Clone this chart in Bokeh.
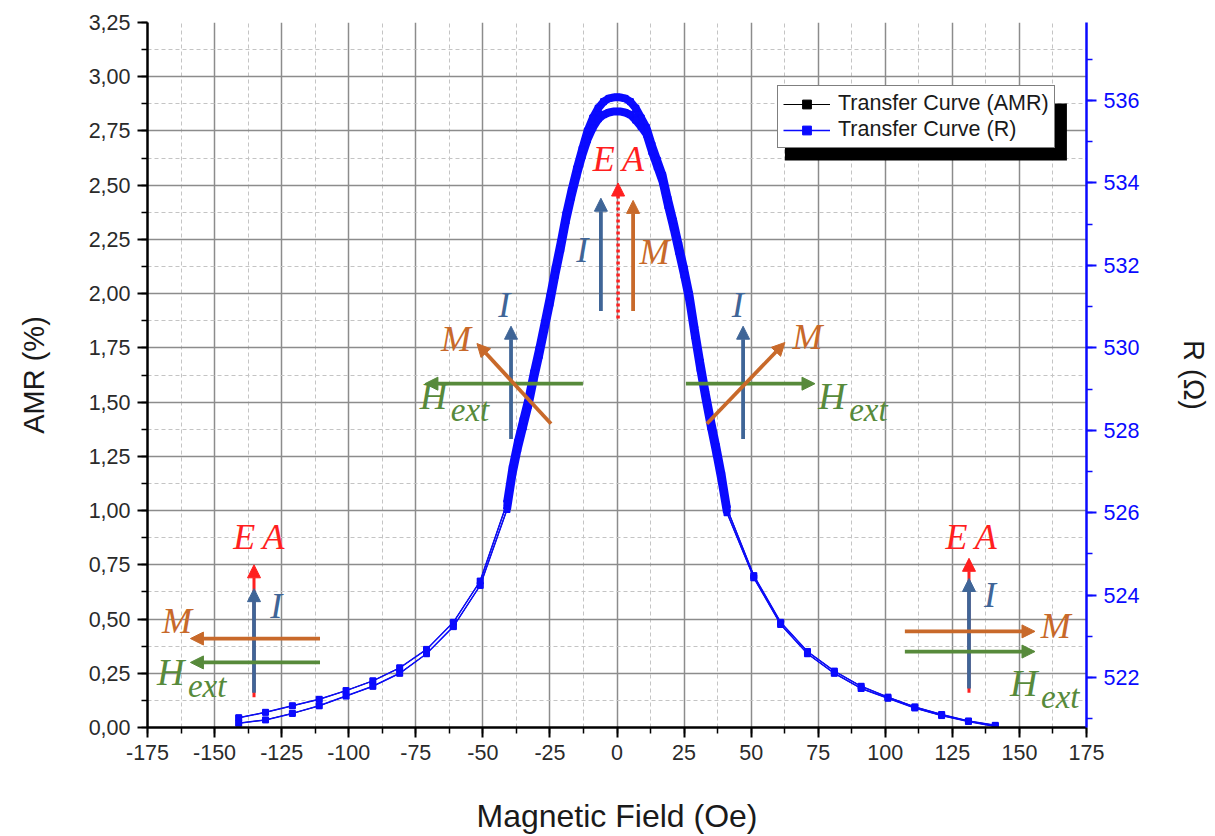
from bokeh.plotting import figure
from bokeh.models import (Range1d, LinearAxis, SingleIntervalTicker, CustomJSTickFormatter,
                          Arrow, NormalHead, Label, Legend, LegendItem, BoxAnnotation)
from bokeh.embed import file_html
from bokeh.resources import INLINE

# ---------------- data ----------------
field_left = [-141, -131, -121, -111, -101, -91, -81, -71, -61, -51]
amr_up_left = [0.045, 0.07, 0.10, 0.13, 0.17, 0.215, 0.275, 0.36, 0.485, 0.675]
amr_dn_left = [0.02, 0.035, 0.065, 0.10, 0.145, 0.19, 0.25, 0.34, 0.465, 0.655]

field_core = [-41, -39, -37, -35, -33, -31, -29, -27, -25, -23, -21, -19, -17, -15, -13, -11,
              -9, -7, -5, -3, -1, 1, 3, 5, 7, 9, 11, 13, 15, 17, 19, 21, 23, 25, 27, 29, 31,
              33, 35, 37, 39, 41]
amr_up_core = [1.035, 1.195, 1.315, 1.415, 1.515, 1.635, 1.745, 1.865, 1.985, 2.115, 2.235,
               2.365, 2.475, 2.575, 2.665, 2.75, 2.81, 2.855, 2.885, 2.90, 2.905,
               2.905, 2.90, 2.885, 2.855, 2.81, 2.765, 2.685, 2.615, 2.545, 2.435, 2.335,
               2.225, 2.115, 1.995, 1.835, 1.685, 1.545, 1.415, 1.295, 1.165, 1.01]
amr_dn_core = [1.005, 1.165, 1.285, 1.385, 1.485, 1.605, 1.715, 1.835, 1.955, 2.085, 2.205,
               2.335, 2.445, 2.545, 2.635, 2.71, 2.765, 2.805, 2.825, 2.835, 2.84,
               2.84, 2.835, 2.825, 2.80, 2.77, 2.735, 2.655, 2.585, 2.515, 2.405, 2.305,
               2.195, 2.085, 1.965, 1.805, 1.655, 1.515, 1.385, 1.265, 1.135, 0.99]

field_right = [51, 61, 71, 81, 91, 101, 111, 121, 131, 141]
amr_up_right = [0.70, 0.485, 0.35, 0.26, 0.19, 0.14, 0.095, 0.06, 0.03, 0.01]
amr_dn_right = [0.69, 0.475, 0.34, 0.25, 0.18, 0.135, 0.09, 0.055, 0.028, 0.005]

x_ticks_step = 25
amr_range = (0.0, 3.25)
r_range = (520.79, 537.89)

# full branches
field_up = field_left + field_core + field_right
amr_up = amr_up_left + amr_up_core + amr_up_right
field_dn = field_left + field_core + field_right
amr_dn = amr_dn_left + amr_dn_core + amr_dn_right

def to_r(vals):
    k = (r_range[1] - r_range[0]) / (amr_range[1] - amr_range[0])
    return [r_range[0] + v * k for v in vals]

r_up = to_r(amr_up)
r_dn = to_r(amr_dn)
r_up_core = to_r(amr_up_core)
r_dn_core = to_r(amr_dn_core)

FONT = "Liberation Sans"
SERIF = "Liberation Serif"
BLUE = "#0a0aff"

p = figure(width=1215, height=836, x_range=Range1d(-175, 175), y_range=Range1d(*amr_range),
           output_backend="svg", toolbar_location=None,
           min_border_left=147, min_border_right=129, min_border_top=22, min_border_bottom=109)
p.outline_line_color = None
p.extra_y_ranges = {"r": Range1d(*r_range)}

# grids
for g in (p.xgrid, p.ygrid):
    g.grid_line_color = "#8c8c8c"
    g.grid_line_width = 1.5
    g.minor_grid_line_color = "#c4c4c4"
    g.minor_grid_line_dash = "4 3"
    g.minor_grid_line_width = 1

# axes
xax = p.xaxis[0]
xax.ticker = SingleIntervalTicker(interval=x_ticks_step, num_minor_ticks=2)
xax.formatter = CustomJSTickFormatter(code="return tick.toFixed(0);")
yax = p.yaxis[0]
yax.ticker = SingleIntervalTicker(interval=0.25, num_minor_ticks=2)
yax.formatter = CustomJSTickFormatter(code="return tick.toFixed(2).replace('.', ',');")
xax.axis_label = "Magnetic Field (Oe)"
yax.axis_label = "AMR (%)"

rax = LinearAxis(y_range_name="r", axis_label="R (\u03a9)",
                 ticker=SingleIntervalTicker(interval=2, num_minor_ticks=2))
p.add_layout(rax, "right")

for ax in (xax, yax, rax):
    ax.axis_line_width = 2.5
    ax.major_tick_line_width = 2
    ax.minor_tick_line_width = 1.5
    ax.major_tick_out = 10
    ax.major_tick_in = 0
    ax.minor_tick_out = 6
    ax.minor_tick_in = 0
    ax.major_label_text_font = FONT
    ax.major_label_text_font_size = "21.5px"
    ax.axis_label_text_font = FONT
    ax.axis_label_text_font_size = "29px"
    ax.axis_label_text_font_style = "normal"
    ax.axis_label_text_color = "#1a1a1a"
    ax.major_label_text_color = "#2a2a2a"
    ax.major_label_standoff = 7
xax.axis_label_text_font_size = "32px"
xax.axis_label_standoff = 35
yax.axis_label_standoff = 36
rax.axis_label_standoff = 36
for attr in ("axis_line_color", "major_tick_line_color", "minor_tick_line_color",
             "major_label_text_color"):
    setattr(rax, attr, BLUE)

# AMR series (black)
bl = p.line(field_up, amr_up, color="black", line_width=1)
p.line(field_dn, amr_dn, color="black", line_width=1)
bm = p.scatter(field_up, amr_up, marker="square", size=5, color="black")
p.scatter(field_dn, amr_dn, marker="square", size=5, color="black")

# R series (blue) on right axis
rl = p.line(field_up, r_up, color=BLUE, line_width=1.5, y_range_name="r")
p.line(field_dn, r_dn, color=BLUE, line_width=1.5, y_range_name="r")
p.line(field_core, r_up_core, color=BLUE, line_width=8, y_range_name="r")
p.line(field_core, r_dn_core, color=BLUE, line_width=8, y_range_name="r")
rm = p.scatter(field_up, r_up, marker="square", size=6, color=BLUE, y_range_name="r")
p.scatter(field_dn, r_dn, marker="square", size=6, color=BLUE, y_range_name="r")

# ---------------- annotations ----------------
C_I = "#3f6597"
C_M = "#c8692a"
C_H = "#578a3b"
C_EA = "#ff1f1f"

def arrow(x0, y0, x1, y1, c, w=3.8, dash="solid", hs=13):
    p.add_layout(Arrow(x_start=x0, y_start=y0, x_end=x1, y_end=y1, line_color=c, line_width=w,
                       line_dash=dash,
                       end=NormalHead(size=hs, fill_color=c, line_color=c, line_width=1)))

def label(x, y, t, c, size="36px", align="center"):
    p.add_layout(Label(x=x, y=y, text=t, text_color=c, text_font=SERIF, text_font_style="italic",
                       text_font_size=size, text_align=align, text_baseline="middle"))

def hext(x, y, c):
    label(x, y, "H", c, "38px", "left")
    p.add_layout(Label(x=x, y=y, x_offset=31, y_offset=-14, text="ext", text_color=c,
                       text_font=SERIF, text_font_style="italic", text_font_size="33px",
                       text_align="left", text_baseline="middle"))

EA = "E\u2009A"

# center (peak)
arrow(0.4, 1.885, 0.4, 2.51, C_EA, 3.5, "3 3")
arrow(-6, 1.92, -6, 2.44, C_I)
arrow(6, 1.92, 6, 2.43, C_M)
label(0.5, 2.62, EA, C_EA)
label(-13, 2.2, "I", C_I)
label(14, 2.19, "M", C_M)

# left middle
arrow(-39.5, 1.33, -39.5, 1.85, C_I)
arrow(-12.7, 1.585, -71.6, 1.585, C_H)
arrow(-24.6, 1.40, -52.2, 1.77, C_M)
label(-42, 1.95, "I", C_I)
label(-60, 1.79, "M", C_M)
hext(-73.5, 1.53, C_H)

# right middle
arrow(47, 1.33, 47, 1.85, C_I)
arrow(25.7, 1.585, 73.8, 1.585, C_H)
arrow(33.5, 1.40, 62.6, 1.775, C_M)
label(45, 1.95, "I", C_I)
label(71, 1.80, "M", C_M)
hext(75, 1.53, C_H)

# bottom left
arrow(-135.3, 0.14, -135.3, 0.75, C_EA, 3)
arrow(-135.3, 0.16, -135.3, 0.64, C_I)
arrow(-110.7, 0.41, -159, 0.41, C_M)
arrow(-110.7, 0.30, -159, 0.30, C_H)
label(-133.5, 0.88, EA, C_EA)
label(-127, 0.56, "I", C_I)
label(-164, 0.49, "M", C_M)
hext(-171.5, 0.255, C_H)

# bottom right
arrow(131.2, 0.16, 131.2, 0.78, C_EA, 3)
arrow(131.2, 0.18, 131.2, 0.687, C_I)
arrow(107.3, 0.443, 155.8, 0.443, C_M)
arrow(107.3, 0.35, 155.8, 0.35, C_H)
label(132, 0.88, EA, C_EA)
label(139, 0.61, "I", C_I)
label(163.5, 0.47, "M", C_M)
hext(146.5, 0.205, C_H)

# legend with shadow
shadow = BoxAnnotation(left=62.6, right=167.7, top=2.877, bottom=2.614,
                       fill_color="black", fill_alpha=1, line_color=None)
p.add_layout(shadow)
legend = Legend(items=[LegendItem(label="Transfer Curve (AMR)", renderers=[bl, bm]),
                       LegendItem(label="Transfer Curve (R)", renderers=[rl, rm])],
                location=(630, 579), label_text_font=FONT, label_text_font_size="21.5px",
                label_text_color="#1a1a1a", glyph_width=47, glyph_height=22, label_height=22,
                label_standoff=8, spacing=1, padding=5, margin=0,
                border_line_color="black", border_line_width=1.5,
                background_fill_color="white", background_fill_alpha=1)
p.add_layout(legend, "center")

open("out.html", "w").write(file_html(p, INLINE))
